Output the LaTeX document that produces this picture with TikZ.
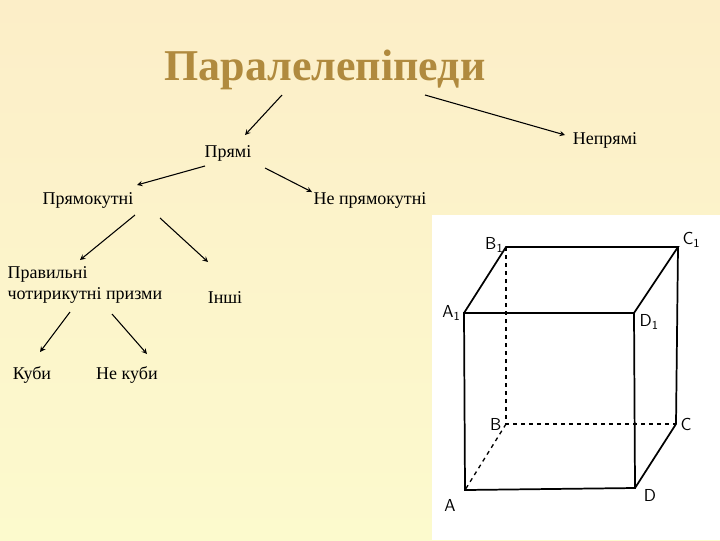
\documentclass[tikz,border=0pt]{standalone}
\usepackage{fontspec}
\setmainfont{Liberation Serif}
\begin{document}
\begin{tikzpicture}[x=0.75pt,y=-0.75pt,
  lbl/.style={inner sep=1pt,font=\fontsize{13.5}{16}\selectfont},
  arr/.style={-stealth,thick},
  edge/.style={line width=1.3pt},
  hid/.style={line width=1pt,dashed},
  vl/.style={inner sep=1pt,font=\sffamily\fontsize{13}{13}\selectfont}]
\shade[top color={rgb,255:red,252;green,238;blue,200},bottom color={rgb,255:red,252;green,250;blue,205}] (0,0) rectangle (720,540);
\useasboundingbox (0,0) rectangle (720,540);
\node[font=\bfseries\fontsize{33}{36}\selectfont,text={rgb,255:red,176;green,138;blue,62}] (t) at (325,70) {Паралелепіпеди};
\node[lbl] (p) at (228,153) {Прямі};
\node[lbl] (np) at (605,140) {Непрямі};
\node[lbl] (pk) at (88,200) {Прямокутні};
\node[lbl] (npk) at (370,200) {Не прямокутні};
\node[lbl,align=left,anchor=west] (pr) at (6,285) {Правильні\\чотирикутні призми};
\node[lbl] (in) at (225,298) {Інші};
\node[lbl] (k) at (32,375) {Куби};
\node[lbl] (nk) at (127,375) {Не куби};
\coordinate (t1) at (282,95); \coordinate (t2) at (425,95);
\draw[arr] (t1) -- (245,135);
\draw[arr] (t2) -- (565,135);
\draw[arr] (205,166) -- (137,185);
\draw[arr] (265,168) -- (312,192);
\draw[arr] (135,215) -- (80,260);
\draw[arr] (160,218) -- (208,262);
\draw[arr] (70,312) -- (40,352);
\draw[arr] (112,314) -- (147,354);
\fill[white] (432,215) rectangle (720,540);
\coordinate (A1) at (464,313); \coordinate (D1) at (634,313);
\coordinate (B1) at (506,247); \coordinate (C1) at (678,247);
\coordinate (B) at (506,424); \coordinate (C) at (676,424);
\coordinate (A) at (465,490); \coordinate (D) at (635,488);
\draw[edge] (A) -- (D) -- (D1) -- (A1) -- cycle;
\draw[edge] (A1) -- (B1) -- (C1) -- (D1);
\draw[edge] (C1) -- (C) -- (D);
\draw[hid] (B1) -- (B) -- (C);
\draw[hid] (B) -- (A);
\node[vl,anchor=east] (lA1) at (462,313) {A\textsubscript{1}};
\node[vl,anchor=east] (lB1) at (505,245) {B\textsubscript{1}};
\node[vl,anchor=west] (lC1) at (681,240) {C\textsubscript{1}};
\node[vl,anchor=west] (lD1) at (638,322) {D\textsubscript{1}};
\node[vl,anchor=east] (lB) at (503,424) {B};
\node[vl,anchor=west] (lC) at (679,424) {C};
\node[vl] (lA) at (450,505) {A};
\node[vl] (lD) at (650,495) {D};
\end{tikzpicture}
\end{document}
